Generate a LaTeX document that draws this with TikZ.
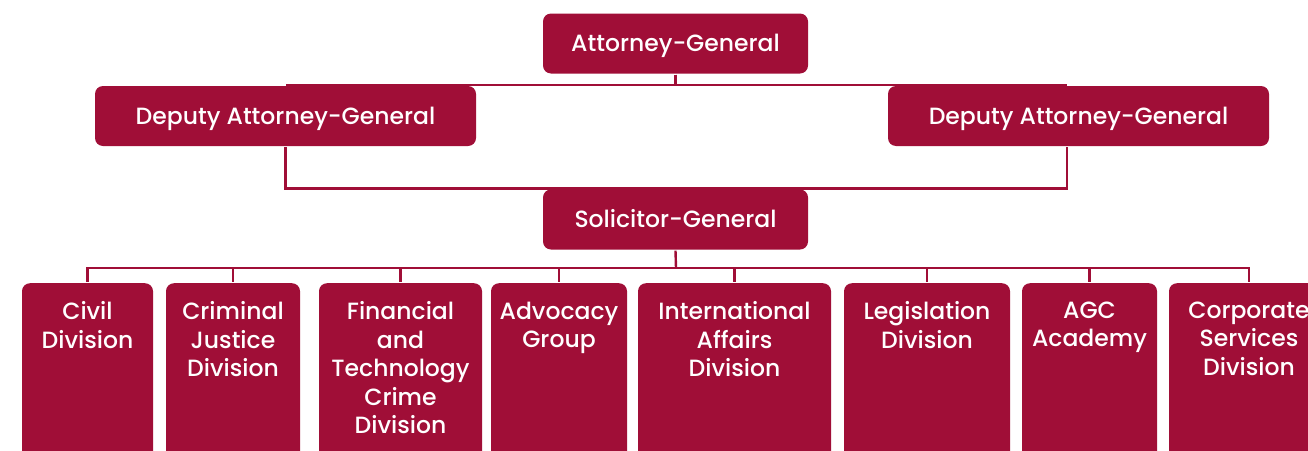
\documentclass[tikz,border=0pt]{standalone}
\usepackage{fontspec}
\setmainfont{Poppins}[UprightFont=* Medium, Ligatures=NoCommon]
\usetikzlibrary{positioning}
\definecolor{agcred}{HTML}{A00E37}

\begin{document}
\begin{tikzpicture}[x=1pt, y=-1pt, line width=2.4pt, draw=agcred,
  box/.style={fill=agcred, text=white, rounded corners=8pt, inner sep=0pt,
    font=\fontsize{23.5}{28.5}\selectfont},
  office/.style={box, minimum height=60pt, text height=16.5pt, text depth=0pt},
  division/.style={box, anchor=north, minimum height=200pt},
  divtext/.style={anchor=north, yshift=-18.5pt, align=center, text=white, inner sep=0pt,
    font=\fontsize{23.5}{28.5}\selectfont, execute at begin node=\strut},
  ]
  \useasboundingbox (0,0) rectangle (1308,450);
  \clip (0,0) rectangle (1308,450);

  % top of the tree
  \node[office, minimum width=265pt] (ag) at (675.5,43.5) {Attorney-General};
  \node[office, minimum width=381pt] (dagl) at (285.5,116) {Deputy Attorney-General};
  \node[office, minimum width=381pt] (dagr) at (1078.5,116) {Deputy Attorney-General};
  \node[office, minimum width=265pt] (sg) at (675.5,219.5) {Solicitor-General};

  % divisions
  \node[division, minimum width=131pt] (civ) at (87.5,282) [label={[divtext]north:{Civil\\Division}}] {};
  \node[division, minimum width=134pt] (crim) at (233,282) [label={[divtext]north:{Criminal\\Justice\\Division}}] {};
  \node[division, minimum width=163pt] (fin) at (400.5,282) [label={[divtext]north:{Financial\\and\\Technology\\Crime\\Division}}] {};
  \node[division, minimum width=136pt] (adv) at (559,282) [label={[divtext]north:{Advocacy\\Group}}] {};
  \node[division, minimum width=193pt] (intl) at (734.5,282) [label={[divtext]north:{International\\Affairs\\Division}}] {};
  \node[division, minimum width=166pt] (leg) at (927,282) [label={[divtext]north:{Legislation\\Division}}] {};
  \node[division, minimum width=135pt] (acad) at (1089.5,282) [label={[divtext]north:{AGC\\Academy}}] {};
  \node[division, minimum width=160pt] (corp) at (1249,282) [label={[divtext]north:{Corporate\\Services\\Division}}] {};

  \coordinate (bus) at (676,268);

  % connectors
  \draw[agcred] (ag.south) |- (dagl.north);
  \draw[agcred] (ag.south) |- ([xshift=-11.5pt]dagr.north);
  \draw[agcred] (dagl.south) |- (sg.north);
  \draw[agcred] ([xshift=-11.5pt]dagr.south) |- (sg.north);
  \draw[agcred] (sg.south) -- (bus);
  \draw[agcred] (bus) -| (civ.north);
  \draw[agcred] (bus) -| (crim.north);
  \draw[agcred] (bus) -| (fin.north);
  \draw[agcred] (bus) -| (adv.north);
  \draw[agcred] (bus) -| (intl.north);
  \draw[agcred] (bus) -| (leg.north);
  \draw[agcred] (bus) -| (acad.north);
  \draw[agcred] (bus) -| (corp.north);
\end{tikzpicture}
\end{document}
